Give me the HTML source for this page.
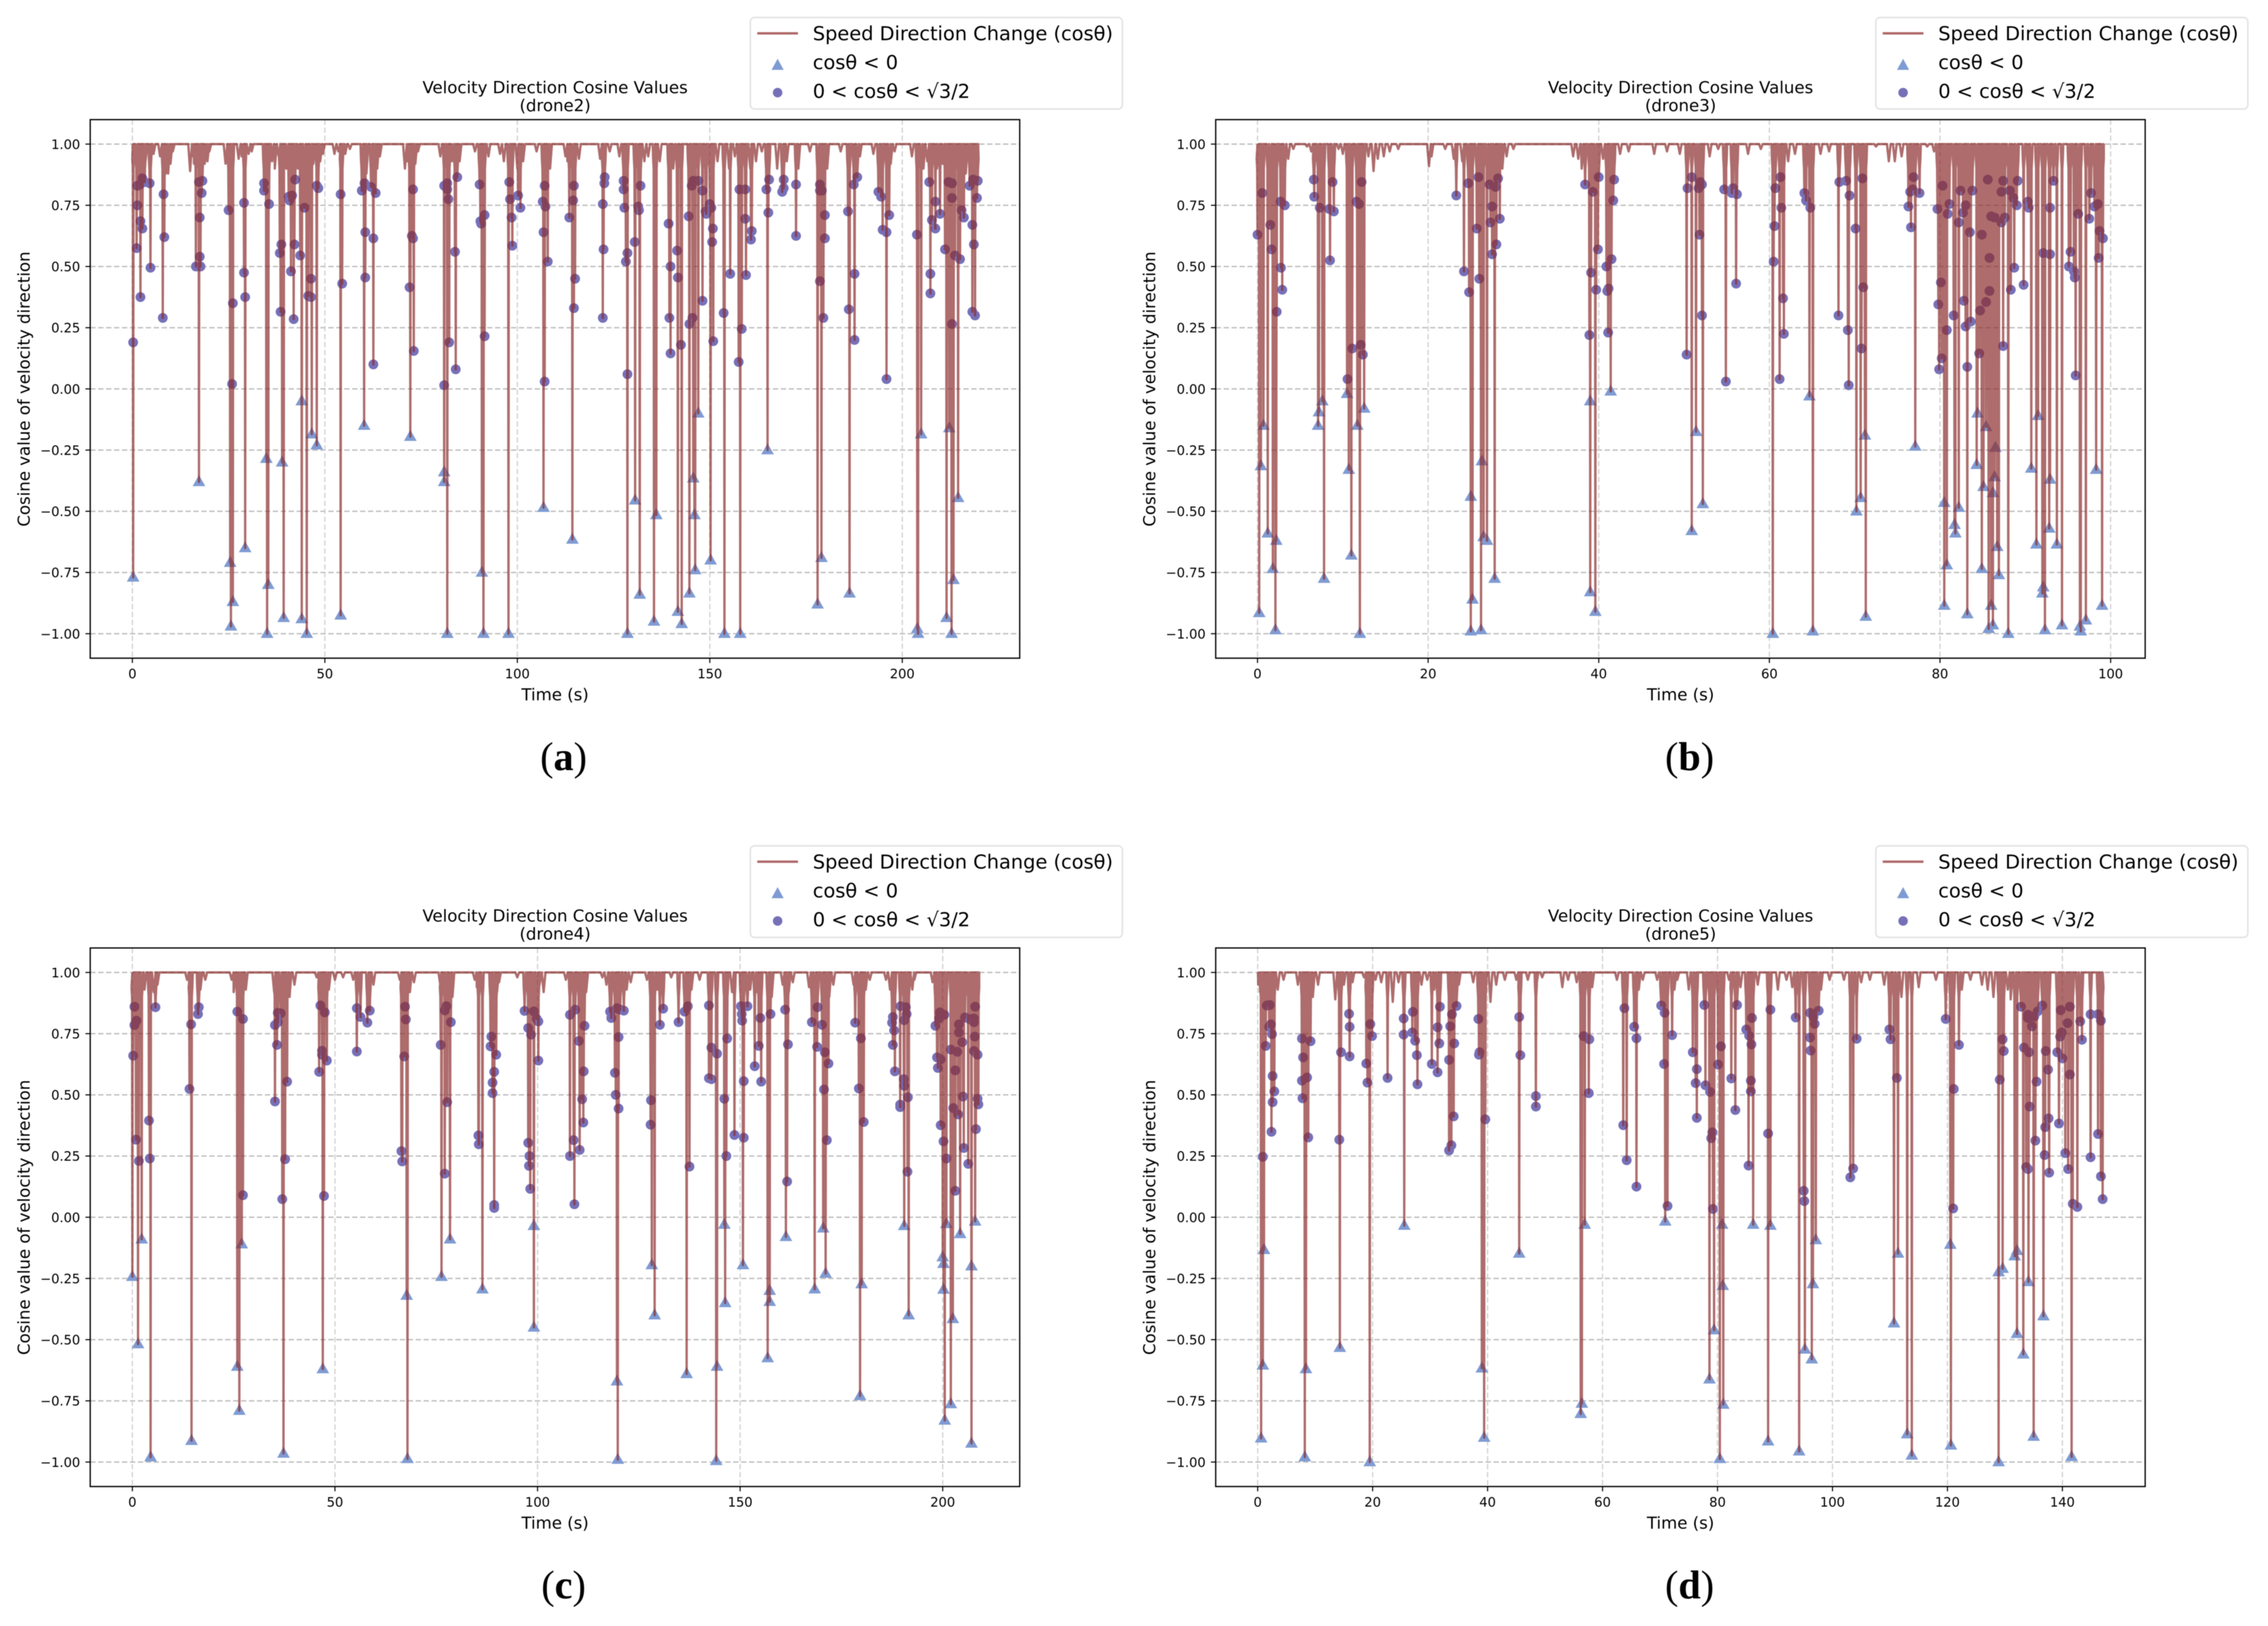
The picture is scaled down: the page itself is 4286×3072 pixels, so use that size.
<!DOCTYPE html>
<html lang="en">
<head>
<meta charset="utf-8">
<title>Velocity Direction Cosine Values</title>
<style>
html,body{margin:0;padding:0;background:#fff;}
svg{display:block;filter:blur(0.9px);}
text{font-family:"DejaVu Sans","Liberation Sans",sans-serif;fill:#000;}
.lbl{font-size:31.3px;}
.leg{font-size:36.6px;}
.cap{font-family:"Liberation Serif","DejaVu Serif",serif;font-size:76px;}
</style>
</head>
<body>
<svg id="figure" xmlns="http://www.w3.org/2000/svg" width="4286" height="3072" viewBox="0 0 4286 3072">
<rect x="0" y="0" width="4286" height="3072" fill="#fff"/>

<g id="panel-a" transform="translate(0,0)">
  <g class="plot"></g>
  <text class="lbl" x="1049" y="176" text-anchor="middle">Velocity Direction Cosine Values</text>
  <text class="lbl" x="1049" y="210" text-anchor="middle">(drone2)</text>
  <text class="lbl" x="1049" y="1323" text-anchor="middle">Time (s)</text>
  <text class="lbl" transform="translate(56,735) rotate(-90)" text-anchor="middle">Cosine value of velocity direction</text>
  <g>
    <rect x="1418" y="33" width="703" height="173" rx="8" fill="#fff" stroke="#e4e4e4" stroke-width="3"/>
    <line x1="1431" y1="63" x2="1508" y2="63" stroke="#b06868" stroke-width="4.4"/>
    <polygon points="1469.5,111 1458,132 1481,132" fill="#7f9bd3"/>
    <circle cx="1469.5" cy="175" r="9" fill="#7670b8"/>
    <text class="leg" x="1536" y="76">Speed Direction Change (cosθ)</text>
    <text class="leg" x="1536" y="130.5">cosθ &lt; 0</text>
    <text class="leg" x="1536" y="185">0 &lt; cosθ &lt; √3/2</text>
  </g>
  <text class="cap" x="1065" y="1455" text-anchor="middle">(<tspan font-weight="bold">a</tspan>)</text>
</g>

<g id="panel-b" transform="translate(2126.9,0)">
  <g class="plot"></g>
  <text class="lbl" x="1049" y="176" text-anchor="middle">Velocity Direction Cosine Values</text>
  <text class="lbl" x="1049" y="210" text-anchor="middle">(drone3)</text>
  <text class="lbl" x="1049" y="1323" text-anchor="middle">Time (s)</text>
  <text class="lbl" transform="translate(56,735) rotate(-90)" text-anchor="middle">Cosine value of velocity direction</text>
  <g>
    <rect x="1418" y="33" width="703" height="173" rx="8" fill="#fff" stroke="#e4e4e4" stroke-width="3"/>
    <line x1="1431" y1="63" x2="1508" y2="63" stroke="#b06868" stroke-width="4.4"/>
    <polygon points="1469.5,111 1458,132 1481,132" fill="#7f9bd3"/>
    <circle cx="1469.5" cy="175" r="9" fill="#7670b8"/>
    <text class="leg" x="1536" y="76">Speed Direction Change (cosθ)</text>
    <text class="leg" x="1536" y="130.5">cosθ &lt; 0</text>
    <text class="leg" x="1536" y="185">0 &lt; cosθ &lt; √3/2</text>
  </g>
  <text class="cap" x="1066" y="1455" text-anchor="middle">(<tspan font-weight="bold">b</tspan>)</text>
</g>

<g id="panel-c" transform="translate(0,1565)">
  <g class="plot"></g>
  <text class="lbl" x="1049" y="176" text-anchor="middle">Velocity Direction Cosine Values</text>
  <text class="lbl" x="1049" y="210" text-anchor="middle">(drone4)</text>
  <text class="lbl" x="1049" y="1323" text-anchor="middle">Time (s)</text>
  <text class="lbl" transform="translate(56,735) rotate(-90)" text-anchor="middle">Cosine value of velocity direction</text>
  <g>
    <rect x="1418" y="33" width="703" height="173" rx="8" fill="#fff" stroke="#e4e4e4" stroke-width="3"/>
    <line x1="1431" y1="63" x2="1508" y2="63" stroke="#b06868" stroke-width="4.4"/>
    <polygon points="1469.5,111 1458,132 1481,132" fill="#7f9bd3"/>
    <circle cx="1469.5" cy="175" r="9" fill="#7670b8"/>
    <text class="leg" x="1536" y="76">Speed Direction Change (cosθ)</text>
    <text class="leg" x="1536" y="130.5">cosθ &lt; 0</text>
    <text class="leg" x="1536" y="185">0 &lt; cosθ &lt; √3/2</text>
  </g>
  <text class="cap" x="1065" y="1455" text-anchor="middle">(<tspan font-weight="bold">c</tspan>)</text>
</g>

<g id="panel-d" transform="translate(2126.9,1565)">
  <g class="plot"></g>
  <text class="lbl" x="1049" y="176" text-anchor="middle">Velocity Direction Cosine Values</text>
  <text class="lbl" x="1049" y="210" text-anchor="middle">(drone5)</text>
  <text class="lbl" x="1049" y="1323" text-anchor="middle">Time (s)</text>
  <text class="lbl" transform="translate(56,735) rotate(-90)" text-anchor="middle">Cosine value of velocity direction</text>
  <g>
    <rect x="1418" y="33" width="703" height="173" rx="8" fill="#fff" stroke="#e4e4e4" stroke-width="3"/>
    <line x1="1431" y1="63" x2="1508" y2="63" stroke="#b06868" stroke-width="4.4"/>
    <polygon points="1469.5,111 1458,132 1481,132" fill="#7f9bd3"/>
    <circle cx="1469.5" cy="175" r="9" fill="#7670b8"/>
    <text class="leg" x="1536" y="76">Speed Direction Change (cosθ)</text>
    <text class="leg" x="1536" y="130.5">cosθ &lt; 0</text>
    <text class="leg" x="1536" y="185">0 &lt; cosθ &lt; √3/2</text>
  </g>
  <text class="cap" x="1066" y="1455" text-anchor="middle">(<tspan font-weight="bold">d</tspan>)</text>
</g>
</svg>

<script>
// Shared y axis
const yTickValues = [1, 0.75, 0.5, 0.25, 0, -0.25, -0.5, -0.75, -1];
const yTickLabels = ["1.00", "0.75", "0.50", "0.25", "0.00", "−0.25", "−0.50", "−0.75", "−1.00"];
const yDomain = [-1.1, 1.1];
const plateauValue = 1;

// drone2
const drone2XDomain = [-10.95, 230.5];
const drone2XTicks = [0, 50, 100, 150, 200];
const drone2Span = [0, 219.7];
const drone2Triangles = [[0.2,-0.77],[17.3,-0.38],[25.4,-0.71],[25.6,-0.97],[26.1,-0.87],[29.3,-0.65],[34.8,-0.285],[35,-1],[35.3,-0.8],[38.9,-0.3],[39.3,-0.935],[44,-0.05],[44,-0.94],[45.3,-1],[46.6,-0.185],[47.9,-0.23],[54.1,-0.925],[60.2,-0.15],[72.2,-0.195],[81,-0.34],[81,-0.38],[81.8,-1],[90.8,-0.75],[91.2,-1],[97.7,-1],[106.8,-0.485],[114.3,-0.615],[128.6,-1],[130.6,-0.455],[131.8,-0.84],[135.5,-0.95],[136.1,-0.515],[141.7,-0.91],[142.7,-0.96],[144.7,-0.835],[145.7,-0.365],[146,-0.515],[146.2,-0.74],[147,-0.1],[150.2,-0.7],[153.8,-1],[157.9,-1],[165,-0.25],[178,-0.88],[179,-0.69],[186.3,-0.835],[203.9,-0.98],[204.1,-1],[204.9,-0.185],[211.5,-0.935],[212.2,-0.16],[212.8,-1],[213.3,-0.78],[214.5,-0.445]];
const drone2Circles = [[0.2,0.19],[1.1,0.575],[1.3,0.75],[1.3,0.83],[2,0.835],[2.1,0.685],[2.6,0.86],[3.2,0.845],[2.6,0.655],[2.1,0.375],[4.5,0.84],[4.7,0.495],[8.1,0.795],[8.3,0.62],[7.9,0.29],[16.5,0.5],[17.3,0.845],[18.2,0.85],[18,0.8],[17.5,0.7],[17.5,0.54],[17.7,0.5],[25,0.73],[26.1,0.35],[25.9,0.02],[29,0.76],[29,0.475],[29.3,0.375],[34.2,0.84],[34.2,0.81],[35.5,0.755],[38.5,0.315],[38.3,0.555],[38.7,0.59],[40.6,0.785],[41.5,0.79],[40.8,0.77],[41.2,0.48],[42.1,0.59],[41.9,0.285],[42.3,0.855],[43.6,0.545],[44.7,0.74],[45.7,0.38],[46.4,0.45],[46.4,0.375],[47.9,0.83],[48.3,0.82],[54.1,0.795],[54.5,0.43],[59.6,0.81],[60.3,0.84],[60.5,0.64],[60.5,0.455],[62,0.825],[62.6,0.615],[62.6,0.1],[63.2,0.8],[72,0.415],[72.6,0.625],[72.9,0.615],[72.9,0.815],[73.1,0.155],[81,0.83],[81.8,0.84],[81,0.015],[81.8,0.815],[82.1,0.775],[82.3,0.19],[84,0.08],[83.8,0.56],[84.4,0.865],[90.2,0.835],[90.4,0.685],[90.6,0.675],[91.5,0.71],[91.5,0.215],[97.9,0.845],[98.1,0.775],[98.5,0.7],[98.7,0.585],[100.2,0.79],[100.8,0.74],[106.6,0.765],[106.8,0.64],[107.1,0.03],[107.1,0.83],[107.3,0.745],[107.9,0.52],[113.5,0.7],[114.5,0.77],[114.7,0.83],[114.7,0.33],[115,0.45],[122.2,0.29],[122.2,0.755],[122.4,0.57],[122.6,0.84],[122.7,0.865],[127.6,0.85],[127.6,0.815],[127.8,0.74],[128.2,0.52],[128.6,0.555],[128.6,0.06],[130.5,0.6],[131.4,0.745],[131.6,0.73],[132,0.83],[139.3,0.675],[139.5,0.29],[139.8,0.5],[139.8,0.145],[141.5,0.565],[141.7,0.455],[142.5,0.18],[144.5,0.705],[144.7,0.265],[145.3,0.83],[145.5,0.29],[145.7,0.85],[147,0.85],[148.1,0.81],[148.1,0.36],[148.9,0.725],[149.1,0.715],[150,0.755],[150.4,0.74],[150.6,0.6],[150.8,0.655],[150.9,0.195],[153.6,0.31],[155.3,0.47],[157.5,0.11],[157.7,0.815],[158.3,0.245],[159.2,0.815],[159.2,0.695],[159.4,0.465],[160.7,0.61],[160.9,0.645],[164.7,0.815],[165.2,0.72],[165.4,0.855],[168.8,0.805],[169.2,0.855],[169.2,0.82],[172.4,0.835],[172.4,0.625],[178.6,0.835],[178.6,0.81],[178.6,0.44],[179.1,0.81],[179.5,0.29],[179.9,0.71],[179.9,0.615],[185.9,0.725],[186.1,0.325],[187.4,0.835],[187.6,0.2],[187.6,0.47],[188.3,0.865],[193.8,0.805],[194.5,0.785],[194.9,0.65],[195.9,0.64],[196.6,0.71],[195.9,0.04],[203.8,0.63],[207,0.845],[207.3,0.39],[207.3,0.47],[207.7,0.69],[208.6,0.765],[208.6,0.655],[209.8,0.715],[211.1,0.57],[212,0.845],[212.9,0.84],[212.9,0.78],[212.9,0.265],[213.7,0.545],[215,0.53],[215.4,0.73],[216,0.7],[217.5,0.83],[218.2,0.67],[218.4,0.855],[218.6,0.59],[218.2,0.315],[218.9,0.3],[219.6,0.85],[219.4,0.78]];
const drone2ShallowDips = [[1.8,0.95],[3.4,0.93],[5.5,0.96],[7.2,0.95],[8.7,0.88],[9.3,0.88],[9.9,0.92],[10.5,0.97],[15,0.89],[15.5,0.95],[16,0.92],[18.8,0.92],[19.5,0.93],[20,0.97],[24.2,0.92],[27.6,0.94],[28.4,0.95],[30.2,0.96],[31,0.97],[36.3,0.93],[37,0.9],[38,0.95],[40,0.9],[43,0.9],[47,0.92],[48.8,0.93],[49.5,0.96],[52.5,0.96],[53.5,0.97],[55.3,0.96],[56.5,0.98],[60.8,0.88],[63.6,0.9],[64.3,0.95],[70.8,0.9],[71.3,0.93],[73.5,0.92],[74.2,0.97],[80,0.95],[83,0.93],[85,0.93],[89,0.97],[92.5,0.95],[95.5,0.96],[96.5,0.93],[100,0.9],[101.5,0.93],[105,0.97],[108.5,0.9],[112.5,0.95],[113,0.93],[116,0.94],[121.5,0.94],[124,0.97],[126.5,0.95],[133,0.93],[134,0.95],[137,0.93],[140.5,0.9],[149,0.9],[152,0.93],[155,0.9],[156.5,0.95],[160.5,0.9],[162,0.93],[163.5,0.97],[167.5,0.9],[170,0.93],[173,0.9],[176,0.97],[180.5,0.9],[184,0.97],[189,0.95],[192.5,0.96],[194.3,0.9],[197,0.92],[198,0.97],[202.5,0.95],[205.5,0.9],[206.5,0.93],[209,0.9],[210.5,0.92],[214,0.9],[216.5,0.88],[217.5,0.9]];

// drone3
const drone3XDomain = [-4.9, 104.05];
const drone3XTicks = [0, 20, 40, 60, 80, 100];
const drone3Span = [0, 99.2];
const drone3Triangles = [[0.2,-0.915],[0.4,-0.315],[0.7,-0.15],[1.2,-0.59],[1.8,-0.735],[2.1,-0.985],[2.2,-0.62],[7.1,-0.15],[7.2,-0.095],[7.6,-0.05],[7.8,-0.775],[10.5,-0.02],[10.7,-0.33],[11,-0.68],[11.7,-0.15],[12,-1],[12.5,-0.08],[25,-0.44],[25,-0.99],[25.2,-0.86],[26.2,-0.985],[26.3,-0.295],[26.5,-0.605],[26.9,-0.62],[27.8,-0.775],[39,-0.05],[39,-0.83],[39.6,-0.91],[41.4,-0.01],[50.9,-0.58],[51.4,-0.175],[52.2,-0.47],[60.4,-1],[64.7,-0.03],[65.1,-0.99],[70.2,-0.5],[70.7,-0.445],[71.2,-0.19],[71.3,-0.93],[77.1,-0.235],[80.5,-0.465],[80.5,-0.885],[80.8,-0.72],[81.7,-0.555],[81.8,-0.59],[82.2,-0.485],[83.2,-0.92],[84.3,-0.31],[84.4,-0.1],[84.9,-0.735],[85.1,-0.4],[85.4,-0.155],[85.7,-0.98],[86,-0.885],[86.2,-0.965],[86.2,-0.425],[86.4,-0.36],[86.5,-0.24],[86.7,-0.645],[86.9,-0.76],[88,-1],[90.7,-0.325],[91.3,-0.635],[91.5,-0.11],[92,-0.835],[92.1,-0.81],[92.3,-0.985],[92.8,-0.57],[92.9,-0.37],[93.7,-0.635],[94.3,-0.965],[96.4,-0.97],[96.5,-0.99],[97.1,-0.945],[98.3,-0.33],[99,-0.885]];
const drone3Circles = [[0,0.63],[0.55,0.8],[1.5,0.67],[1.65,0.57],[2.25,0.315],[2.7,0.765],[2.75,0.495],[2.9,0.405],[3.2,0.75],[6.6,0.855],[6.65,0.785],[7.3,0.74],[8.4,0.735],[8.5,0.525],[8.8,0.845],[8.95,0.725],[10.55,0.04],[11.1,0.165],[11.6,0.765],[11.9,0.755],[12.1,0.18],[12.2,0.845],[12.35,0.14],[23.3,0.79],[24.2,0.48],[24.7,0.84],[24.8,0.395],[25.7,0.655],[25.9,0.865],[26,0.45],[27.2,0.835],[27.3,0.68],[27.5,0.745],[27.5,0.55],[27.9,0.825],[28,0.59],[28.2,0.86],[28.4,0.695],[38.4,0.835],[38.9,0.22],[39.1,0.475],[39.3,0.805],[39.7,0.405],[39.9,0.57],[40,0.865],[40.9,0.5],[41,0.4],[41.1,0.23],[41.15,0.41],[41.5,0.53],[41.7,0.77],[41.8,0.855],[50.3,0.14],[50.4,0.82],[50.9,0.865],[51.7,0.82],[51.8,0.63],[51.9,0.845],[52.1,0.835],[52.1,0.3],[54.7,0.815],[54.9,0.03],[55.6,0.8],[55.75,0.82],[56.2,0.795],[56.1,0.43],[60.5,0.52],[60.6,0.665],[60.7,0.82],[61.2,0.04],[61.3,0.865],[61.4,0.74],[61.6,0.37],[61.7,0.225],[64.1,0.8],[64.3,0.77],[64.8,0.74],[68.1,0.3],[68.2,0.845],[69,0.85],[69.2,0.24],[69.3,0.015],[69.4,0.79],[70.1,0.655],[70.8,0.165],[70.9,0.86],[71,0.415],[76.3,0.745],[76.5,0.805],[76.6,0.66],[76.8,0.815],[76.9,0.865],[77.6,0.8],[79.7,0.735],[79.8,0.345],[79.9,0.08],[80.1,0.435],[80.2,0.125],[80.3,0.83],[80.8,0.24],[80.9,0.715],[81.1,0.755],[81.6,0.3],[82.2,0.68],[82.4,0.81],[82.7,0.72],[82.8,0.36],[83,0.75],[83,0.255],[83.2,0.09],[83.5,0.64],[83.6,0.275],[83.8,0.81],[84.6,0.145],[84.7,0.32],[84.9,0.63],[85.4,0.355],[85.6,0.855],[85.8,0.535],[85.8,0.4],[86,0.705],[86.4,0.7],[87.2,0.805],[87.2,0.68],[87.4,0.175],[87.4,0.85],[87.6,0.7],[88.2,0.81],[88.3,0.405],[88.6,0.78],[88.7,0.495],[89,0.75],[89.1,0.85],[89.8,0.425],[90.3,0.765],[90.4,0.74],[92.1,0.555],[92.9,0.55],[92.9,0.74],[93.3,0.85],[95.1,0.5],[95.3,0.56],[95.7,0.48],[95.8,0.455],[95.9,0.055],[96.2,0.715],[97.5,0.695],[97.7,0.8],[98.1,0.745],[98.5,0.755],[98.6,0.535],[98.7,0.645],[99.1,0.615]];
const drone3ShallowDips = [[0.1,0.93],[0.35,0.88],[3.6,0.94],[4.2,0.98],[5.8,0.99],[6.3,0.97],[9.5,0.98],[10,0.96],[13,0.95],[13.6,0.89],[14.1,0.94],[14.8,0.95],[15.5,0.97],[16.5,0.98],[20.1,0.91],[20.4,0.95],[22,0.98],[23,0.94],[24,0.93],[28.7,0.9],[29.2,0.95],[30,0.98],[37,0.95],[37.6,0.94],[38,0.9],[38.3,0.93],[40.5,0.94],[42.5,0.96],[43.5,0.97],[46.5,0.96],[48,0.97],[49.5,0.96],[53,0.95],[54,0.98],[57.5,0.96],[59,0.98],[62.2,0.93],[63,0.96],[66,0.96],[67,0.97],[72.5,0.99],[74,0.93],[74.7,0.93],[75.5,0.95],[78.5,0.99],[79.3,0.97]];

// drone4
const drone4XDomain = [-10.4, 219];
const drone4XTicks = [0, 50, 100, 150, 200];
const drone4Span = [0, 209];
const drone4Triangles = [[0,-0.243],[1.4,-0.518],[2.3,-0.09],[4.5,-0.98],[14.6,-0.913],[25.9,-0.61],[26.4,-0.79],[27,-0.11],[37.3,-0.965],[47,-0.62],[67.9,-0.987],[67.7,-0.32],[76.3,-0.243],[78.4,-0.09],[86.4,-0.294],[99.1,-0.035],[99.1,-0.45],[119.6,-0.67],[119.8,-0.99],[128.2,-0.195],[128.9,-0.4],[136.8,-0.64],[144.1,-0.995],[144.3,-0.61],[146.1,-0.03],[146.3,-0.35],[150.7,-0.195],[156.8,-0.575],[157.3,-0.3],[157.3,-0.345],[161.3,-0.08],[168.4,-0.294],[170.5,-0.045],[171.1,-0.23],[179.6,-0.73],[180,-0.273],[190.5,-0.035],[191.6,-0.4],[200.5,-0.83],[200,-0.163],[200.2,-0.19],[200.2,-0.295],[200.9,-0.027],[202,-0.763],[202.5,-0.415],[204.3,-0.068],[207.1,-0.2],[207.1,-0.924],[208,-0.017]];
const drone4Circles = [[0.2,0.66],[0.5,0.86],[0.5,0.785],[0.9,0.317],[1,0.803],[1.6,0.23],[4.1,0.395],[4.3,0.24],[5.7,0.858],[14.1,0.524],[14.5,0.788],[16.2,0.83],[16.4,0.858],[25.9,0.84],[27.3,0.81],[27.3,0.09],[35.2,0.473],[35.2,0.785],[35.7,0.704],[35.9,0.835],[36.6,0.833],[35.9,0.797],[37,0.074],[37.7,0.237],[38.2,0.554],[46.1,0.594],[46.4,0.865],[46.8,0.68],[46.8,0.664],[47.5,0.837],[47.3,0.087],[48,0.64],[55.4,0.854],[55.4,0.677],[56.3,0.818],[58,0.795],[58.6,0.844],[66.4,0.27],[66.6,0.228],[67.1,0.657],[67.3,0.86],[67.5,0.808],[76.1,0.704],[77.1,0.845],[77.1,0.178],[77.5,0.862],[77.7,0.47],[78.6,0.797],[85.4,0.334],[85.5,0.298],[88.4,0.698],[88.6,0.738],[88.9,0.55],[88.9,0.507],[89.3,0.594],[89.3,0.05],[89.3,0.038],[89.8,0.664],[96.8,0.843],[97.7,0.304],[97.7,0.773],[98,0.25],[97.9,0.21],[98.2,0.116],[98.4,0.746],[99.1,0.841],[99.8,0.81],[100.2,0.64],[100.2,0.8],[108,0.827],[108,0.25],[108.9,0.315],[109.1,0.053],[109.3,0.848],[110.2,0.72],[110.4,0.275],[111,0.482],[111.3,0.387],[111.4,0.596],[111.6,0.782],[117.9,0.84],[118.2,0.814],[119.1,0.59],[119.3,0.5],[119.6,0.854],[120,0.444],[120,0.736],[120.4,0.848],[121.3,0.844],[127.9,0.378],[128,0.478],[130.2,0.786],[131,0.852],[134.8,0.797],[136.3,0.84],[137.1,0.862],[137.5,0.207],[142.3,0.865],[142.3,0.568],[142.9,0.564],[142.9,0.693],[144.3,0.668],[146.1,0.484],[146.6,0.25],[146.8,0.73],[148.6,0.336],[150.2,0.862],[150.4,0.83],[150.5,0.803],[150.9,0.556],[150.9,0.325],[151.8,0.862],[153.6,0.617],[154.6,0.7],[155,0.814],[155.2,0.554],[157.5,0.83],[161.1,0.848],[161.6,0.146],[161.8,0.706],[167.7,0.797],[169,0.696],[169.1,0.858],[170.2,0.786],[170.7,0.522],[170.9,0.674],[171.4,0.315],[171.8,0.628],[178.4,0.795],[179.3,0.526],[179.8,0.731],[180.5,0.389],[187.5,0.795],[187.7,0.818],[187.7,0.704],[188,0.763],[188.2,0.596],[189.6,0.862],[189.5,0.46],[189.5,0.45],[190.4,0.564],[190.5,0.537],[190.9,0.858],[191.1,0.83],[190.5,0.805],[191.3,0.186],[191.4,0.49],[198.2,0.782],[198.6,0.653],[198.8,0.61],[199.1,0.812],[199.3,0.837],[199.5,0.376],[199.5,0.645],[200.2,0.31],[200.4,0.827],[200.9,0.24],[202,0.685],[202.6,0.446],[203.1,0.6],[203.1,0.108],[203.6,0.676],[203.8,0.42],[204,0.788],[204,0.755],[204.8,0.715],[205,0.493],[205.2,0.283],[205.5,0.816],[206.3,0.218],[206.6,0.81],[207.7,0.812],[207.7,0.797],[207.9,0.738],[207.7,0.679],[208,0.86],[208.2,0.36],[208.6,0.664],[208.6,0.484],[208.8,0.461]];
const drone4ShallowDips = [[3,0.93],[5.3,0.92],[6.2,0.95],[13.5,0.97],[14,0.93],[16.8,0.93],[18,0.97],[24.5,0.97],[25,0.92],[28,0.93],[35,0.92],[38.8,0.9],[40,0.95],[45.5,0.98],[48.5,0.93],[50,0.97],[52,0.98],[54.5,0.97],[56,0.94],[58.5,0.92],[59.5,0.95],[66,0.97],[68.5,0.92],[69.5,0.96],[76,0.95],[79,0.9],[84.5,0.97],[85,0.94],[90,0.92],[90.5,0.96],[95,0.98],[100.5,0.95],[101.5,0.92],[107,0.97],[112,0.92],[116,0.98],[117,0.95],[122,0.93],[123,0.96],[127,0.97],[129.5,0.93],[130.5,0.95],[133,0.98],[138,0.93],[140,0.97],[148,0.92],[152.5,0.93],[154,0.92],[157.8,0.9],[160.5,0.95],[162,0.92],[163,0.96],[167,0.94],[172,0.9],[173,0.95],[178,0.95],[181,0.93],[182,0.97],[186,0.97],[187,0.93],[192.5,0.93],[193,0.97],[197.5,0.96]];

// drone5
const drone5XDomain = [-7.3, 154.4];
const drone5XTicks = [0, 20, 40, 60, 80, 100, 120, 140];
const drone5Span = [0, 147];
const drone5Triangles = [[0.6,-0.903],[0.9,-0.605],[1.1,-0.133],[8.2,-0.98],[8.4,-0.62],[14.3,-0.533],[19.5,-1],[25.5,-0.034],[39,-0.617],[39.4,-0.9],[45.5,-0.148],[56.4,-0.761],[56.2,-0.803],[56.9,-0.03],[70.9,-0.017],[78.6,-0.662],[79.4,-0.461],[80.4,-0.987],[80.8,-0.03],[80.9,-0.28],[81,-0.765],[86.2,-0.03],[88.8,-0.915],[89.2,-0.034],[94.2,-0.956],[95.2,-0.54],[96.4,-0.58],[96.6,-0.273],[97.1,-0.093],[110.7,-0.433],[111.4,-0.148],[113,-0.886],[113.8,-0.973],[120.5,-0.112],[120.6,-0.932],[128.9,-1],[128.9,-0.224],[129.6,-0.21],[131.7,-0.159],[132.1,-0.137],[132.1,-0.476],[133.2,-0.56],[134.1,-0.264],[135,-0.896],[136.7,-0.404],[141.6,-0.979]];
const drone5Circles = [[0.9,0.247],[1.4,0.7],[1.6,0.865],[2.1,0.867],[2,0.778],[2.3,0.788],[2.5,0.748],[2.6,0.577],[2.6,0.47],[2.4,0.349],[2.9,0.514],[7.7,0.73],[7.9,0.653],[7.7,0.558],[7.8,0.486],[8.6,0.571],[8.8,0.326],[9.2,0.719],[14.2,0.317],[14.5,0.674],[15.9,0.831],[16,0.778],[16,0.657],[18.9,0.628],[19.1,0.55],[19.6,0.789],[19.9,0.74],[22.6,0.569],[25.4,0.812],[25.4,0.746],[26.9,0.755],[27,0.839],[27.4,0.721],[27.7,0.662],[27.8,0.543],[30.3,0.626],[31.3,0.776],[31.3,0.592],[31.6,0.71],[31.7,0.86],[33.3,0.643],[33.3,0.273],[33.5,0.78],[33.8,0.829],[33.7,0.294],[34.1,0.412],[34.2,0.71],[34.6,0.863],[38.4,0.81],[38.5,0.664],[38.6,0.674],[39.6,0.4],[45.5,0.818],[45.7,0.662],[48.4,0.495],[48.4,0.452],[56.7,0.74],[57.7,0.727],[57.6,0.507],[63.6,0.376],[63.8,0.854],[64.2,0.233],[65.5,0.778],[65.9,0.731],[65.9,0.125],[70.2,0.865],[70.7,0.626],[70.8,0.835],[71.3,0.046],[72.1,0.744],[75.7,0.674],[76.2,0.548],[76.4,0.605],[76.4,0.406],[77.7,0.867],[77.9,0.539],[78.7,0.512],[78.9,0.323],[79.1,0.347],[79.2,0.034],[80.1,0.624],[80.6,0.698],[82.4,0.567],[83.1,0.438],[83.4,0.867],[85,0.767],[85.5,0.742],[85.4,0.211],[85.8,0.558],[85.8,0.514],[85.9,0.706],[86,0.814],[88.8,0.342],[89.2,0.848],[93.6,0.816],[95,0.108],[95.1,0.066],[96.1,0.835],[96.1,0.734],[96.2,0.681],[96.7,0.818],[96.9,0.79],[97.6,0.844],[103.1,0.163],[103.6,0.199],[104.2,0.729],[109.9,0.767],[110.1,0.727],[111.2,0.569],[119.7,0.81],[121,0.036],[121.1,0.524],[122,0.704],[129.1,0.562],[129.6,0.727],[129.8,0.679],[132.8,0.86],[133.3,0.693],[133.7,0.205],[134,0.197],[134,0.827],[134,0.814],[134.2,0.674],[134.3,0.452],[134.7,0.78],[135.1,0.82],[135.3,0.313],[135.5,0.554],[135.7,0.841],[136.5,0.865],[137,0.368],[136.9,0.254],[137.1,0.679],[137.5,0.603],[137.6,0.404],[137.7,0.182],[139.1,0.674],[139.4,0.383],[139.6,0.738],[139.7,0.846],[139.9,0.755],[140,0.649],[140.5,0.262],[140.9,0.793],[141,0.197],[141.3,0.86],[141.3,0.583],[141.8,0.055],[142.6,0.042],[143.1,0.8],[143.4,0.725],[144.9,0.829],[144.9,0.245],[146.2,0.34],[146.2,0.829],[146.7,0.167],[146.7,0.803],[147,0.074]];
const drone5ShallowDips = [[0.1,0.95],[0.4,0.92],[3.5,0.93],[4.5,0.97],[7,0.95],[9.6,0.9],[10.5,0.95],[13.5,0.89],[15,0.95],[16.5,0.96],[18.5,0.98],[20.5,0.97],[21.5,0.96],[23.5,0.88],[24.5,0.96],[28.5,0.95],[29.5,0.97],[30.7,0.93],[35,0.95],[37.5,0.96],[40.5,0.88],[41.5,0.95],[43,0.97],[45,0.97],[47,0.97],[48.5,0.95],[49.5,0.98],[53,0.94],[54,0.97],[55.5,0.96],[58.2,0.94],[62.5,0.97],[66.3,0.93],[67,0.97],[69.5,0.97],[72.5,0.93],[73,0.97],[75,0.93],[82,0.97],[84,0.94],[87,0.95],[90.5,0.93],[92,0.97],[93,0.94],[98,0.93],[99.5,0.97],[102,0.97],[105,0.96],[106.5,0.97],[109,0.95],[112,0.9],[115,0.94],[118,0.97],[122.5,0.93],[124,0.97],[126,0.95],[127,0.93],[128,0.9],[130.5,0.93],[131,0.89]];

const SVG_NS = "http://www.w3.org/2000/svg";
const plotBox = { left: 170.5, right: 1927, top: 226, bottom: 1243.5 };

function addEl(tag, parent) {
  const el = document.createElementNS(SVG_NS, tag);
  parent.appendChild(el);
  return el;
}

function renderPanel(panelId, xDomain, xTicks, span, triangles, circles, dips) {
  const plot = document.querySelector("#" + panelId + " .plot");
  const xAxis = function (t) {
    return plotBox.left + (t - xDomain[0]) / (xDomain[1] - xDomain[0]) * (plotBox.right - plotBox.left);
  };
  const yAxis = function (v) {
    return plotBox.bottom - (v - yDomain[0]) / (yDomain[1] - yDomain[0]) * (plotBox.bottom - plotBox.top);
  };

  yTickValues.forEach(function (v, i) {
    const grid = addEl("line", plot);
    
    
    grid.setAttribute("x1", plotBox.left);
    grid.setAttribute("x2", plotBox.right);
    grid.setAttribute("y1", yAxis(v));
    grid.setAttribute("y2", yAxis(v));
    grid.setAttribute("stroke", "#bdbdbd");
    grid.setAttribute("stroke-width", "2.6");
    grid.setAttribute("stroke-dasharray", "10 5");

    const tick = addEl("line", plot);
    
    
    tick.setAttribute("x1", plotBox.left - 9);
    tick.setAttribute("x2", plotBox.left);
    tick.setAttribute("y1", yAxis(v));
    tick.setAttribute("y2", yAxis(v));
    tick.setAttribute("stroke", "#000");
    tick.setAttribute("stroke-width", "2");

    const label = addEl("text", plot);
    
    
    label.setAttribute("x", 151.5);
    label.setAttribute("y", yAxis(v) + 9);
    label.setAttribute("text-anchor", "end");
    label.setAttribute("font-size", "24.6");
    label.textContent = yTickLabels[i];
  });

  xTicks.forEach(function (t) {
    const grid = addEl("line", plot);
    
    
    grid.setAttribute("x1", xAxis(t));
    grid.setAttribute("x2", xAxis(t));
    grid.setAttribute("y1", plotBox.top);
    grid.setAttribute("y2", plotBox.bottom);
    grid.setAttribute("stroke", "#cfcfcf");
    grid.setAttribute("stroke-width", "2.2");
    grid.setAttribute("stroke-dasharray", "10 5");

    const tick = addEl("line", plot);
    
    
    tick.setAttribute("x1", xAxis(t));
    tick.setAttribute("x2", xAxis(t));
    tick.setAttribute("y1", plotBox.bottom);
    tick.setAttribute("y2", plotBox.bottom + 9);
    tick.setAttribute("stroke", "#000");
    tick.setAttribute("stroke-width", "2");

    const label = addEl("text", plot);
    
    
    label.setAttribute("x", xAxis(t));
    label.setAttribute("y", plotBox.bottom + 38);
    label.setAttribute("text-anchor", "middle");
    label.setAttribute("font-size", "24.6");
    label.textContent = String(t);
  });

  triangles.forEach(function (p) {
    const cx = xAxis(p[0]);
    const cy = yAxis(p[1]);
    const tri = addEl("polygon", plot);
    
    
    tri.setAttribute("points", cx + "," + (cy - 13) + " " + (cx - 12) + "," + (cy + 8) + " " + (cx + 12) + "," + (cy + 8));
    tri.setAttribute("fill", "#7f9bd3");
  });

  circles.forEach(function (p) {
    const dot = addEl("circle", plot);
    
    
    dot.setAttribute("cx", xAxis(p[0]));
    dot.setAttribute("cy", yAxis(p[1]));
    dot.setAttribute("r", "9.3");
    dot.setAttribute("fill", "#7670b8");
  });

  // The line dips to every marked sample and every shallow dip, and returns to the plateau in between.
  const deepSamples = triangles.concat(circles);
  const samples = deepSamples.concat(dips).slice().sort(function (a, b) { return a[0] - b[0]; });
  const topY = yAxis(plateauValue);
  const shoulderY = yAxis(0.94);
  const neckY = yAxis(0.9);
  let d = "M" + xAxis(span[0]) + "," + topY;
  let prevX = xAxis(span[0]);
  samples.forEach(function (p) {
    const sx = xAxis(p[0]);
    const isShallow = dips.indexOf(p) >= 0;
    const halfWidth = isShallow ? 3.5 : 2.4;
    const leftX = sx - halfWidth;
    if (leftX > prevX) {
      d += "L" + leftX + "," + topY;
    } else {
      d += "L" + ((sx + prevX) / 2) + "," + topY;
    }
    if (!isShallow) {
      d += "L" + (sx - 1.6) + "," + shoulderY;
      d += "L" + (sx - 0.6) + "," + neckY;
    }
    d += "L" + sx + "," + yAxis(p[1]);
    if (!isShallow) {
      d += "L" + (sx + 0.6) + "," + neckY;
      d += "L" + (sx + 1.6) + "," + shoulderY;
    }
    d += "L" + Math.min(sx + halfWidth, xAxis(span[1])) + "," + topY;
    prevX = sx + halfWidth;
  });
  d += "L" + xAxis(span[1]) + "," + topY;

  const line = addEl("path", plot);
  
  
  line.setAttribute("d", d);
  line.setAttribute("fill", "none");
  line.setAttribute("stroke", "rgb(140,45,45)");
  line.setAttribute("stroke-opacity", "0.7");
  line.setAttribute("stroke-width", "4.4");
  line.setAttribute("stroke-linejoin", "round");

  const frame = addEl("rect", plot);
  
  
  frame.setAttribute("x", plotBox.left);
  frame.setAttribute("y", plotBox.top);
  frame.setAttribute("width", plotBox.right - plotBox.left);
  frame.setAttribute("height", plotBox.bottom - plotBox.top);
  frame.setAttribute("fill", "none");
  frame.setAttribute("stroke", "#000");
  frame.setAttribute("stroke-width", "2.4");
}

renderPanel("panel-a", drone2XDomain, drone2XTicks, drone2Span, drone2Triangles, drone2Circles, drone2ShallowDips);
renderPanel("panel-b", drone3XDomain, drone3XTicks, drone3Span, drone3Triangles, drone3Circles, drone3ShallowDips);
renderPanel("panel-c", drone4XDomain, drone4XTicks, drone4Span, drone4Triangles, drone4Circles, drone4ShallowDips);
renderPanel("panel-d", drone5XDomain, drone5XTicks, drone5Span, drone5Triangles, drone5Circles, drone5ShallowDips);
</script>
</body>
</html>
